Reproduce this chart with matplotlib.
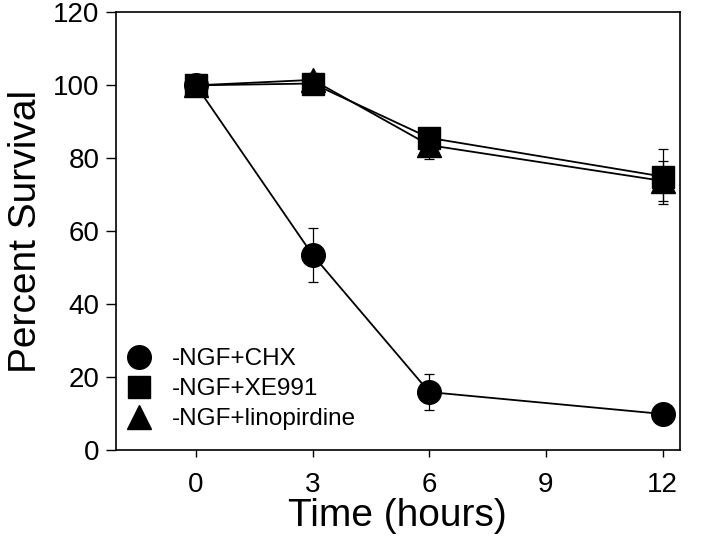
import matplotlib
matplotlib.use('Agg')
import matplotlib.pyplot as plt
from matplotlib.lines import Line2D

plt.rcParams['font.family'] = ['Liberation Sans', 'DejaVu Sans']

hours = [0, 3, 6, 12]

chx = [100, 53.5, 15.9, 9.9]
chx_err = [1, 7.3, 5, 0.5]

xe991 = [100, 100.5, 85.6, 75]
xe991_err = [1, 1, 2.4, 7.5]

lino = [100, 101.5, 83.6, 73.8]
lino_err = [1, 2, 3.8, 5.5]

labels = ['-NGF+CHX', '-NGF+XE991', '-NGF+linopirdine']


def main():
    fig = plt.figure(figsize=(7.2, 5.39), dpi=100)
    ax = fig.add_axes([0.161, 0.165, 0.783, 0.812])

    common = dict(color='black', lw=1.3, elinewidth=0.9, capsize=3.5, capthick=0.9)
    ax.errorbar(hours, lino, yerr=lino_err, marker='^', ms=17, **common)
    ax.errorbar(hours, xe991, yerr=xe991_err, marker='s', ms=15.5, **common)
    ax.errorbar(hours, chx, yerr=chx_err, marker='o', ms=17, **common)

    ax.set_xlim(-2.06, 12.44)
    ax.set_ylim(0, 120)
    ax.set_xticks([0, 3, 6, 9, 12])
    ax.set_yticks(range(0, 121, 20))
    ax.tick_params(direction='out', width=1, labelsize=20)
    ax.tick_params(axis='x', length=5, pad=11)
    ax.tick_params(axis='y', length=7, pad=5)
    for s in ax.spines.values():
        s.set_linewidth(1.2)

    ax.set_xlabel('Time (hours)', fontsize=28, labelpad=0)
    ax.set_ylabel('Percent Survival', fontsize=28, labelpad=6)

    handles = [Line2D([], [], color='black', marker=m, ms=s, ls='none')
               for m, s in [('o', 17), ('s', 15.5), ('^', 17)]]
    ax.legend(handles, labels, loc='lower left', bbox_to_anchor=(0.02, 0.045),
              frameon=False, fontsize=17.5, handlelength=1.0, handletextpad=0.85,
              labelspacing=0.33, borderaxespad=0, borderpad=0)

    fig.savefig('out.png', dpi=100)


if __name__ == '__main__':
    main()
